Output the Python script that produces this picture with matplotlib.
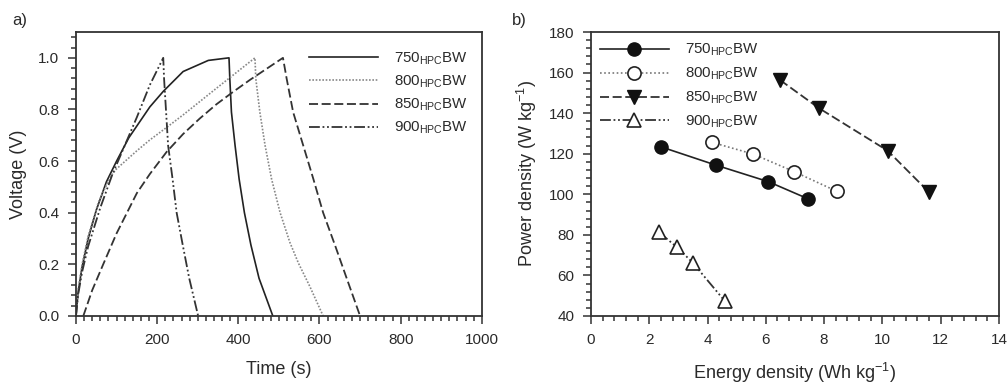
import matplotlib
matplotlib.use("Agg")
import matplotlib.pyplot as plt
from matplotlib.ticker import MultipleLocator

plt.rcParams['font.family'] = ['Liberation Sans', 'DejaVu Sans']
plt.rcParams['mathtext.fontset'] = 'custom'
plt.rcParams['mathtext.rm'] = 'Liberation Sans'
plt.rcParams['mathtext.it'] = 'Liberation Sans'
plt.rcParams['mathtext.bf'] = 'Liberation Sans'

ink = '#2a2a2a'
labels = [r'750$_{\mathrm{HPC}}$BW', r'800$_{\mathrm{HPC}}$BW',
          r'850$_{\mathrm{HPC}}$BW', r'900$_{\mathrm{HPC}}$BW']

# a) galvanostatic charge/discharge
t750 = [0, 5, 15, 30, 50, 75, 100, 130, 182, 215, 264, 326, 377,
        379, 383, 392, 402, 415, 431, 451, 485]
v750 = [0, 0.09, 0.19, 0.30, 0.41, 0.52, 0.60, 0.69, 0.81, 0.87, 0.947, 0.99, 1.0,
        0.92, 0.79, 0.66, 0.53, 0.40, 0.275, 0.146, 0.0]
t800 = [0, 5, 15, 30, 55, 85, 100, 150, 182, 223, 264, 346, 441,
        443, 453, 466, 482, 503, 527, 548, 576, 609]
v800 = [0, 0.10, 0.20, 0.31, 0.44, 0.54, 0.57, 0.64, 0.682, 0.73, 0.779, 0.882, 1.0,
        0.92, 0.79, 0.66, 0.53, 0.40, 0.285, 0.205, 0.115, 0.0]
t850 = [18, 40, 67, 100, 150, 182, 223, 264, 305, 346, 387, 429, 510,
        519, 535, 560, 585, 609, 638, 667, 700]
v850 = [0, 0.10, 0.20, 0.32, 0.476, 0.55, 0.635, 0.705, 0.765, 0.82, 0.868, 0.915, 1.0,
        0.92, 0.79, 0.66, 0.53, 0.40, 0.275, 0.146, 0.0]
t900 = [0, 5, 15, 30, 60, 90, 120, 150, 182, 215,
        217, 222, 227, 238, 248, 263, 279, 301]
v900 = [0, 0.08, 0.17, 0.27, 0.42, 0.55, 0.66, 0.77, 0.895, 1.0,
        0.92, 0.79, 0.66, 0.53, 0.40, 0.275, 0.146, 0.0]

# b) Ragone plot
e750 = [2.40, 4.28, 6.09, 7.46]
p750 = [123.4, 114.4, 106.2, 97.7]
e800 = [4.15, 5.57, 6.98, 8.43]
p800 = [125.6, 119.8, 111.1, 101.5]
e850 = [6.49, 7.83, 10.18, 11.61]
p850 = [156.3, 142.4, 121.5, 100.9]
e900 = [2.34, 2.96, 3.49, 4.59]
p900 = [81.2, 73.8, 66.3, 47.4]

fig = plt.figure(figsize=(10.08, 3.83), dpi=100)
ax1 = fig.add_axes([0.0754, 0.175, 0.4026, 0.7414])
ax2 = fig.add_axes([0.5863, 0.175, 0.4047, 0.7414])

ax1.plot(t750, v750, color='#222222', lw=1.2, ls='-', label=labels[0])
ax1.plot(t800, v800, color='#888888', lw=1.2, ls=(0, (1, 1)), label=labels[1])
ax1.plot(t850, v850, color='#333333', lw=1.3, ls=(0, (5, 2)), label=labels[2])
ax1.plot(t900, v900, color='#333333', lw=1.3, ls=(0, (6, 1.5, 1, 1.5, 1, 1.5)),
         label=labels[3])
ax1.set_xlim(0, 1000)
ax1.set_ylim(0, 1.1)
ax1.set_xticks([0, 200, 400, 600, 800, 1000])
ax1.set_yticks([0, 0.2, 0.4, 0.6, 0.8, 1.0])
ax1.set_yticklabels(['0.0', '0.2', '0.4', '0.6', '0.8', '1.0'])
ax1.xaxis.set_minor_locator(MultipleLocator(20))
ax1.yaxis.set_minor_locator(MultipleLocator(0.04))
ax1.set_xlabel('Time (s)', fontsize=13, color=ink, labelpad=10)
ax1.set_ylabel('Voltage (V)', fontsize=13, color=ink, labelpad=8)
ax1.legend(loc='upper left', bbox_to_anchor=(0.574, 0.935), frameon=False,
           fontsize=10.8, handlelength=4.6, handletextpad=1.1, labelspacing=0.45,
           borderpad=0, borderaxespad=0, labelcolor=ink)

ax2.plot(e750, p750, color='#222222', lw=1.2, ls='-', marker='o', ms=9.5,
         mfc='#111111', mec='#111111', label=labels[0])
ax2.plot(e800, p800, color='#777777', lw=1.2, ls=(0, (1, 1.5)), marker='o', ms=9.5,
         mfc='white', mec='#222222', mew=1.2, label=labels[1])
ax2.plot(e850, p850, color='#333333', lw=1.3, ls=(0, (5, 2)), marker='v', ms=9.5,
         mfc='#111111', mec='#111111', label=labels[2])
ax2.plot(e900, p900, color='#333333', lw=1.3, ls=(0, (6, 1.5, 1, 1.5, 1, 1.5)),
         marker='^', ms=9.5, mfc='white', mec='#222222', mew=1.2, label=labels[3])
ax2.set_xlim(0, 14)
ax2.set_ylim(40, 180)
ax2.set_xticks(range(0, 15, 2))
ax2.set_yticks(range(40, 181, 20))
ax2.xaxis.set_minor_locator(MultipleLocator(0.4))
ax2.yaxis.set_minor_locator(MultipleLocator(4))
ax2.set_xlabel(r'Energy density (Wh kg$^{-1}$)', fontsize=13, color=ink, labelpad=10)
ax2.set_ylabel(r'Power density (W kg$^{-1}$)', fontsize=13, color=ink, labelpad=7)
ax2.legend(loc='upper left', bbox_to_anchor=(0.022, 0.965), frameon=False,
           fontsize=10.8, handlelength=4.6, handletextpad=1.1, labelspacing=0.5,
           borderpad=0, borderaxespad=0, labelcolor=ink)

for ax in (ax1, ax2):
    for s in ax.spines.values():
        s.set_color('#333333')
        s.set_linewidth(1.3)
    ax.tick_params(which='both', direction='out', colors='#333333', width=1.1,
                   labelsize=11, labelcolor=ink, pad=6)
    ax.tick_params(which='major', length=6)
    ax.tick_params(which='minor', length=3.5)

fig.text(0.012, 0.935, 'a)', fontsize=12, color=ink)
fig.text(0.508, 0.935, 'b)', fontsize=12, color=ink)

fig.savefig('out.png', dpi=100)
